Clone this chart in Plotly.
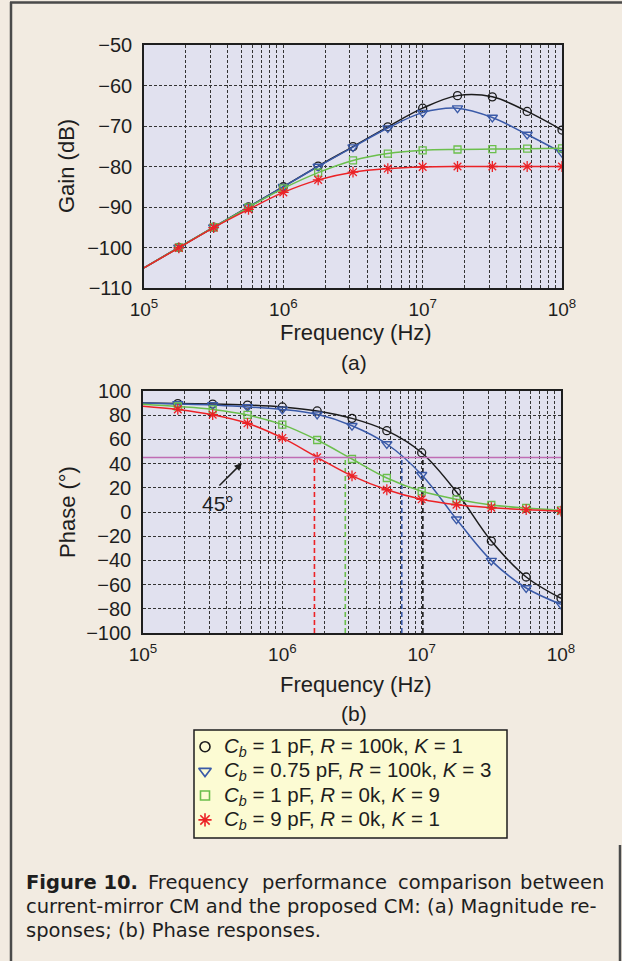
import plotly.graph_objects as go

W, H = 622, 961

# ---------------- data ----------------
freq_line = [1e5, 10**5.25, 10**5.5, 10**5.75, 1e6, 10**6.25, 10**6.5, 10**6.75,
             1e7, 10**7.25, 10**7.5, 10**7.75, 1e8]

series_names = [
    "<i>C<sub>b</sub></i> = 1 pF, <i>R</i> = 100k, <i>K</i> = 1",
    "<i>C<sub>b</sub></i> = 0.75 pF, <i>R</i> = 100k, <i>K</i> = 3",
    "<i>C<sub>b</sub></i> = 1 pF, <i>R</i> = 0k, <i>K</i> = 9",
    "<i>C<sub>b</sub></i> = 9 pF, <i>R</i> = 0k, <i>K</i> = 1",
]

gain_black = [-105, -100, -95, -90, -85, -79.9, -75.1, -70.2, -65.6, -62.5, -62.8, -66.4, -71.0]
gain_blue = [-105, -100, -95, -90, -85, -80, -75.2, -70.5, -66.7, -65.6, -67.9, -72.1, -76.6]
gain_green = [-105, -100, -95, -90.1, -85.4, -81.5, -78.5, -76.8, -76.0, -75.8, -75.7, -75.6, -75.5]
gain_red = [-105, -100.1, -95.1, -90.6, -86.4, -83.3, -81.4, -80.5, -80.1, -80.0, -80.0, -80.0, -80.0]

phase_black = [90.0, 89.6, 89.2, 88.4, 86.8, 83.5, 77.4, 67.2, 49.0, 16.5, -24.0, -53.7, -71.3]
phase_blue = [90.0, 89.3, 88.5, 86.8, 84.8, 80.7, 71.3, 56.2, 30.8, -6.0, -40.2, -62.8, -76.3]
phase_green = [89.0, 87.2, 84.8, 80.2, 72.2, 59.5, 43.8, 28.1, 17.1, 10.5, 5.8, 3.3, 1.4]
phase_red = [87.5, 84.8, 80.4, 73.3, 61.2, 45.2, 29.8, 18.4, 10.5, 6.0, 3.6, 1.9, 0.8]

# frequency where each phase response crosses 45 degrees
f45 = [1.02e7, 7.2e6, 2.83e6, 1.70e6]
phase_ref = 45

gain_ticks = [-110, -100, -90, -80, -70, -60, -50]
phase_ticks = [-100, -80, -60, -40, -20, 0, 20, 40, 60, 80, 100]

# ---------------- style ----------------
colors = ["#1c1c1c", "#3a5aa8", "#6bbf4c", "#ec2226"]
symbols = ["circle-open", "triangle-down-open", "square-open", "asterisk-open"]
msizes = [8, 9, 7, 9]
gains = [gain_black, gain_blue, gain_green, gain_red]
phases = [phase_black, phase_blue, phase_green, phase_red]

BG = "#f2ebe1"
PLOT_BG = "#e1e1ef"
FONT = "Liberation Sans, Arial, sans-serif"
INK = "#1e1e1e"


def px(x):
    return x / W


def py(y):
    return 1 - y / H


# grid positions at every 1..9 x 10^k
grid_vals, grid_text = [], []
for k in range(5, 8):
    for m in range(1, 10):
        grid_vals.append(m * 10 ** k)
        grid_text.append(f"10<sup>{k}</sup>" if m == 1 else "")
grid_vals.append(1e8)
grid_text.append("10<sup>8</sup>")

fig = go.Figure()

for i in range(4):
    fig.add_trace(go.Scatter(x=freq_line, y=gains[i], mode="lines", line=dict(color=colors[i], width=1.5, shape="spline"),
                             showlegend=False, xaxis="x", yaxis="y", hoverinfo="skip"))
    fig.add_trace(go.Scatter(x=freq_line[1:], y=gains[i][1:], mode="markers", name=series_names[i],
                             marker=dict(symbol=symbols[i], size=msizes[i], color=colors[i],
                                         line=dict(color=colors[i], width=1.3)),
                             showlegend=False, xaxis="x", yaxis="y"))

for i in range(4):
    fig.add_trace(go.Scatter(x=[f45[i], f45[i]], y=[-100, phase_ref], mode="lines",
                             line=dict(color=colors[i], width=1.6, dash="5px,3px"),
                             showlegend=False, xaxis="x2", yaxis="y2", hoverinfo="skip"))

for i in range(4):
    fig.add_trace(go.Scatter(x=freq_line, y=phases[i], mode="lines", line=dict(color=colors[i], width=1.5, shape="spline"),
                             showlegend=False, xaxis="x2", yaxis="y2", hoverinfo="skip"))
    fig.add_trace(go.Scatter(x=freq_line[1:], y=phases[i][1:], mode="markers",
                             marker=dict(symbol=symbols[i], size=msizes[i], color=colors[i],
                                         line=dict(color=colors[i], width=1.3)),
                             showlegend=False, xaxis="x2", yaxis="y2"))

# ---- hand-built legend (box 194..507 x 730..838 px) ----
LEG_L, LEG_R, LEG_T, LEG_B = 194, 507, 730, 838
row_step = 24.4
row_first = 16.7
for i in range(4):
    fig.add_trace(go.Scatter(x=[11], y=[row_first + row_step * i], mode="markers",
                             marker=dict(symbol=symbols[i], size=msizes[i] + 2, color=colors[i],
                                         line=dict(color=colors[i], width=1.6)),
                             showlegend=False, xaxis="x3", yaxis="y3", hoverinfo="skip"))

axis_common = dict(showline=True, mirror=True, linecolor=INK, linewidth=1.5,
                   showgrid=True, gridcolor="#333", gridwidth=1, griddash="3px,2px",
                   zeroline=False, ticks="", automargin=False)

xtick_font = dict(family=FONT, size=19, color=INK)
ytick_font = dict(family=FONT, size=20, color=INK)
hidden = dict(visible=False, fixedrange=True)

fig.update_layout(
    width=W, height=H, autosize=False,
    margin=dict(l=0, r=0, t=0, b=0, pad=0, autoexpand=False),
    paper_bgcolor=BG, plot_bgcolor=PLOT_BG,
    font=dict(family=FONT, color=INK),
    showlegend=False,
    xaxis=dict(domain=[px(144), px(562)], type="log", range=[5, 8], anchor="y", tickfont=xtick_font,
               tickvals=grid_vals, ticktext=grid_text, ticklabelstandoff=3, **axis_common),
    yaxis=dict(domain=[py(288), py(45)], range=[-110, -50], anchor="x", tickfont=ytick_font,
               tickvals=gain_ticks, ticklabelstandoff=6, **axis_common),
    xaxis2=dict(domain=[px(143), px(561)], type="log", range=[5, 8], anchor="y2", tickfont=xtick_font,
                tickvals=grid_vals, ticktext=grid_text, ticklabelstandoff=3, **axis_common),
    yaxis2=dict(domain=[py(633), py(391)], range=[-100, 100], anchor="x2", tickfont=ytick_font,
                tickvals=phase_ticks, ticklabelstandoff=6, **axis_common),
    xaxis3=dict(domain=[px(LEG_L), px(LEG_R)], range=[0, LEG_R - LEG_L], anchor="y3", **hidden),
    yaxis3=dict(domain=[py(LEG_B), py(LEG_T)], range=[LEG_B - LEG_T, 0], anchor="x3", **hidden),
)

# legend box (below traces, covers the subplot background)
fig.add_shape(type="rect", xref="paper", yref="paper", x0=px(LEG_L), x1=px(LEG_R), y0=py(LEG_B), y1=py(LEG_T),
              fillcolor="#fcfbd3", line=dict(color=INK, width=1.5), layer="below")

# 45 degree reference line
fig.add_shape(type="line", xref="x2 domain", yref="y2", x0=0, x1=1, y0=phase_ref, y1=phase_ref,
              line=dict(color="#c06cb4", width=1.5))

ann = []


def label(text, x, y, size=22, angle=0, anchor="center", family=FONT):
    ann.append(dict(text=text, x=px(x), y=py(y), xref="paper", yref="paper", showarrow=False,
                    xanchor=anchor, yanchor="middle", textangle=angle,
                    font=dict(family=family, size=size, color=INK)))


label("Gain (dB)", 66, 166, angle=-90)
label("Phase (&#176;)", 67, 512, angle=-90)
label("Frequency (Hz)", 356, 332)
label("(a)", 354, 362, size=21)
label("Frequency (Hz)", 356, 684)
label("(b)", 354, 713, size=21)
label("45&#176;", 218, 503, size=21)

for i in range(4):
    label(series_names[i], 222, LEG_T + row_first + row_step * i, size=20.5, anchor="left")

# arrow pointing at the 45 degree line
ann.append(dict(text="", x=5.71, y=40.5, xref="x2", yref="y2", ax=-24, ay=24, showarrow=True,
                arrowhead=2, arrowsize=1, arrowwidth=1.5, arrowcolor=INK, standoff=0))

CAP = "DejaVu Sans, sans-serif"
cap_size = 19.5
label("<b>Figure 10.</b>", 24, 882, size=cap_size, anchor="left", family=CAP)
label("Frequency", 146, 882, size=cap_size, anchor="left", family=CAP)
label("performance", 260, 882, size=cap_size, anchor="left", family=CAP)
label("comparison", 396, 882, size=cap_size, anchor="left", family=CAP)
label("between", 606, 882, size=cap_size, anchor="right", family=CAP)
label("current-mirror CM and the proposed CM: (a) Magnitude re-", 24, 906, size=cap_size, anchor="left", family=CAP)
label("sponses; (b) Phase responses.", 24, 930, size=cap_size, anchor="left", family=CAP)

fig.update_layout(annotations=ann)

# page frame (top edge, left edge, lower right edge) as one path in paper units
frame_path = (f"M {px(10):.5f},{py(2.5):.5f} L 1,{py(2.5):.5f} "
              f"M {px(11):.5f},{py(2):.5f} L {px(11):.5f},0 "
              f"M {px(620):.5f},{py(845):.5f} L {px(620):.5f},0")
fig.add_shape(type="path", xref="paper", yref="paper", path=frame_path,
              line=dict(color="#4a4a4a", width=2.5), layer="above")

fig.write_html(
    "out.html",
    post_script="document.body.style.margin='0';document.documentElement.style.overflow='hidden';document.body.style.overflow='hidden';",
)
